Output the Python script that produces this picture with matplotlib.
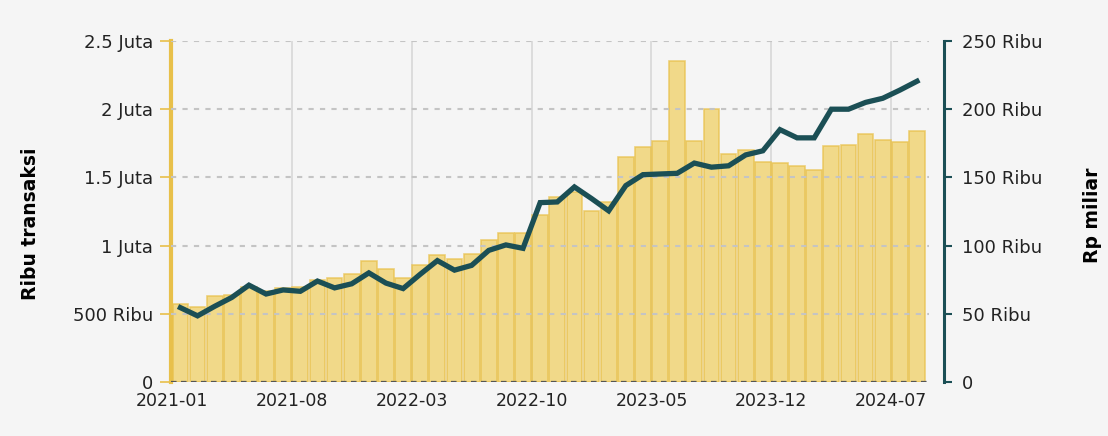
import numpy as np
import matplotlib.pyplot as plt
from matplotlib.ticker import FixedLocator

# monthly data 2021-01 .. 2024-08
months = [f"{y}-{m:02d}" for y in range(2021, 2025) for m in range(1, 13)][:44]

# transaksi (juta)
transaksi = [0.57, 0.55, 0.63, 0.635, 0.70, 0.67, 0.69, 0.70, 0.745, 0.76,
             0.795, 0.89, 0.83, 0.76, 0.86, 0.93, 0.90, 0.94, 1.04, 1.09,
             1.09, 1.225, 1.355, 1.39, 1.25, 1.32, 1.65, 1.72, 1.77, 2.356,
             1.77, 2.005, 1.675, 1.70, 1.615, 1.605, 1.58, 1.555, 1.73, 1.74,
             1.815, 1.773, 1.756, 1.84]

# nilai (Rp miliar, ribu)
nilai = [54.5, 48.5, 55.5, 62, 71, 64.5, 67.5, 66.5, 74, 69,
         72, 80, 72.5, 68.5, 79, 89, 82, 85.5, 96.5, 100.5,
         98, 131.5, 132, 143, 134.5, 125.5, 144, 152, 152.5, 153,
         160.5, 157.5, 158.5, 166.5, 169.5, 185, 179, 179, 200, 200,
         205, 208, 214, 220.5]

left_ticks = [0, 0.5, 1, 1.5, 2, 2.5]
left_labels = ["0", "500 Ribu", "1 Juta", "1.5 Juta", "2 Juta", "2.5 Juta"]
right_ticks = [0, 50, 100, 150, 200, 250]
right_labels = ["0", "50 Ribu", "100 Ribu", "150 Ribu", "200 Ribu", "250 Ribu"]
xlabel_idx = [0, 7, 14, 21, 28, 35, 42]

bg = "#f5f5f5"
gold = "#e8c04a"
teal = "#1b4f55"

fig = plt.figure(figsize=(11.08, 4.36), dpi=100, facecolor=bg)
ax = fig.add_axes([171 / 1108, 1 - 382 / 436, (929 - 171) / 1108, (382 - 41) / 436])
ax.set_facecolor(bg)

x = np.arange(len(months))
ax.bar(x, transaksi, width=0.92, color="#f0cf60", alpha=0.72,
       edgecolor=gold, linewidth=1.2, zorder=2)

ax.set_xlim(-0.55, 43.7)
ax.set_ylim(0, 2.5)

# grid lines
for i in xlabel_idx[1:]:
    ax.axvline(i - 0.5, color="#d8d8d8", lw=1.2, zorder=1)
for v in left_ticks[1:]:
    ax.axhline(v, color="#c4c4c4", lw=1.5, ls=(0, (2.5, 3)), zorder=3)
ax.axhline(0, color="#555555", lw=1.6, ls=(0, (2.5, 2)), zorder=4)

ax.yaxis.set_major_locator(FixedLocator(left_ticks))
ax.set_yticklabels(left_labels)
ax.set_xticks([i - 0.5 for i in xlabel_idx])
ax.set_xticklabels([months[i] for i in xlabel_idx])
ax.tick_params(axis="x", length=0, pad=7, labelsize=12.5, colors="#222222")
ax.tick_params(axis="y", length=8, width=1.2, color=gold, pad=5,
               labelsize=13, labelcolor="#222222")
for s in ["top", "right", "bottom"]:
    ax.spines[s].set_visible(False)
ax.spines["left"].set_color(gold)
ax.spines["left"].set_linewidth(3)
ax.set_ylabel("Ribu transaksi", fontsize=13.5, fontweight="bold")
ax.yaxis.set_label_coords(-0.173, 0.463)

ax2 = ax.twinx()
ax2.plot(x, nilai, color=teal, lw=3.8, solid_joinstyle="miter", zorder=5)
ax2.set_ylim(0, 250)
ax2.yaxis.set_major_locator(FixedLocator(right_ticks))
ax2.set_yticklabels(right_labels)
ax2.tick_params(axis="y", length=6, width=1.5, color=teal, pad=7,
                labelsize=13, labelcolor="#222222")
for s in ["top", "left", "bottom"]:
    ax2.spines[s].set_visible(False)
ax2.spines["right"].set_color(teal)
ax2.spines["right"].set_linewidth(2.2)
ax2.spines["right"].set_position(("outward", 11))
ax2.set_ylabel("Rp miliar", fontsize=13.5, fontweight="bold")
ax2.yaxis.set_label_coords(1.203, 0.49)

fig.savefig("out.png", dpi=100, facecolor=bg)
